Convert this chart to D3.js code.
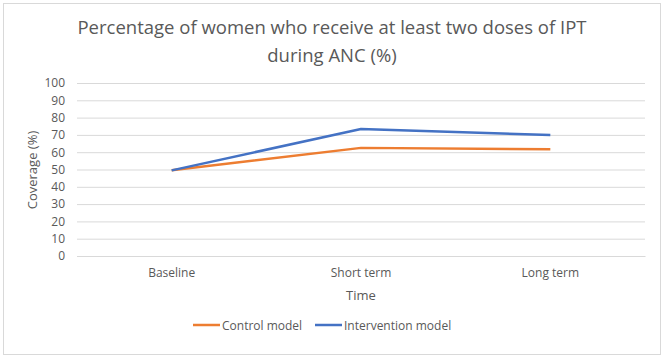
<!DOCTYPE html>
<html><head><meta charset="utf-8">
<script src="https://cdn.jsdelivr.net/npm/d3@7"></script>
<style>body{margin:0;background:#fff}svg{display:block}text{font-family:"Open Sans",sans-serif;fill:#595959}</style>
</head><body>
<svg id="c" width="665" height="359"></svg>
<script>
const categories = ["Baseline", "Short term", "Long term"];
const controlModel = [49.5, 62.5, 61.7];
const interventionModel = [49.5, 73.4, 69.9];
const yTicks = [0,10,20,30,40,50,60,70,80,90,100];
const seriesNames = ["Control model", "Intervention model"];
const colors = ["#ED7D31", "#4472C4"];

const svg = d3.select("#c");
svg.append("rect").attr("x",3.5).attr("y",3.5).attr("width",657).attr("height",351)
  .attr("fill","#fff").attr("stroke","#d9d9d9");

const x = d3.scaleBand().domain(categories).range([77,645]);
const y = d3.scaleLinear().domain([0,100]).range([256,83]);

svg.append("text").attr("x",332).attr("y",34).attr("text-anchor","middle").attr("font-size",18.5)
  .text("Percentage of women who receive at least two doses of IPT");
svg.append("text").attr("x",332).attr("y",62).attr("text-anchor","middle").attr("font-size",18.5)
  .text("during ANC (%)");

const ya = svg.append("g").attr("transform","translate(77,0)")
  .call(d3.axisLeft(y).tickValues(yTicks).tickSize(-568).tickPadding(12));
ya.select(".domain").remove();
ya.selectAll("line").attr("stroke","#d9d9d9");
ya.selectAll("text").attr("font-size",12).attr("fill","#595959").style("font-family","'Open Sans',sans-serif");

const xa = svg.append("g").attr("transform","translate(0,256)")
  .call(d3.axisBottom(x).tickSize(0).tickPadding(12));
xa.select(".domain").attr("stroke","#d9d9d9");
xa.selectAll("text").attr("font-size",12).attr("fill","#595959").style("font-family","'Open Sans',sans-serif");

svg.append("text").attr("transform","translate(37,170) rotate(-90)").attr("text-anchor","middle")
  .attr("font-size",13).text("Coverage (%)");
svg.append("text").attr("x",361).attr("y",300).attr("text-anchor","middle").attr("font-size",13).text("Time");

const line = d3.line().x((d,i)=>x(categories[i])+x.bandwidth()/2).y(d=>y(d));
[controlModel, interventionModel].forEach((s,k)=>{
  svg.append("path").datum(s).attr("d",line).attr("fill","none")
    .attr("stroke",colors[k]).attr("stroke-width",2.5).attr("stroke-linejoin","round");
});

const legX = [193, 315];
seriesNames.forEach((n,k)=>{
  svg.append("line").attr("x1",legX[k]).attr("x2",legX[k]+27).attr("y1",325).attr("y2",325)
    .attr("stroke",colors[k]).attr("stroke-width",2.5);
  svg.append("text").attr("x",legX[k]+29).attr("y",329.5).attr("font-size",12).text(n);
});
</script>
</body></html>
